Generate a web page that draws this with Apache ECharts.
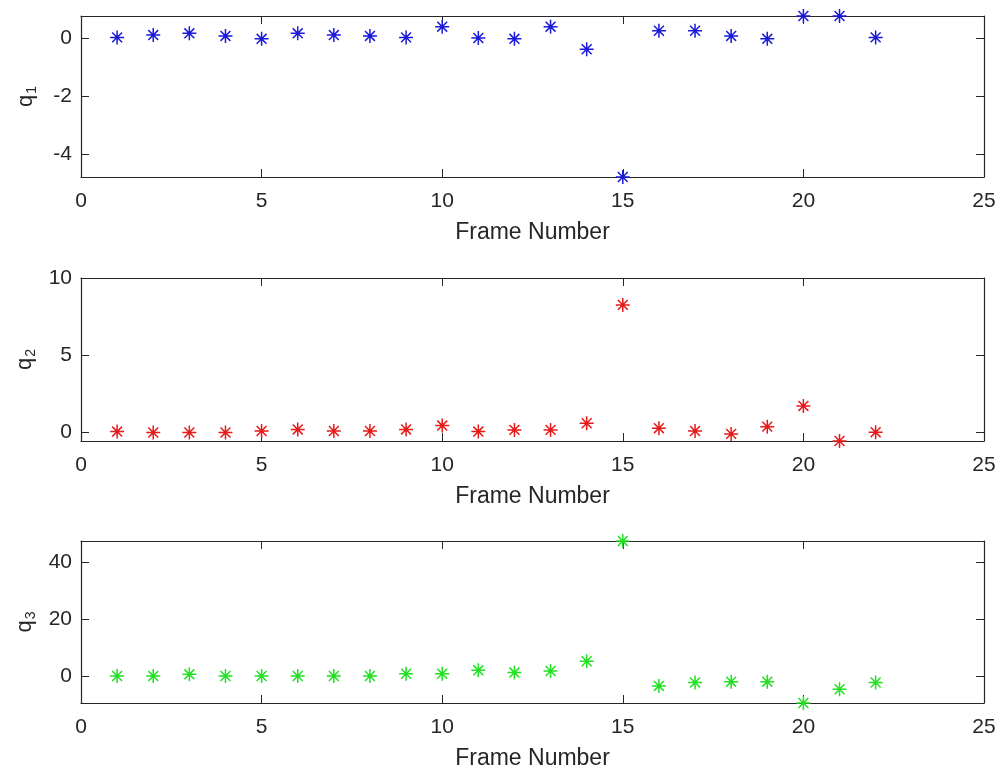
<!DOCTYPE html>
<html>
<head>
<meta charset="utf-8">
<script src="https://cdn.jsdelivr.net/npm/echarts@6/dist/echarts.min.js"></script>
<style>
html,body{margin:0;padding:0;background:#fff;}
#chart{width:1003px;height:773px;}
</style>
</head>
<body>
<div id="chart"></div>
<script>
const frames = [1,2,3,4,5,6,7,8,9,10,11,12,13,14,15,16,17,18,19,20,21,22];
const q1 = [0.03,0.11,0.17,0.08,-0.02,0.17,0.11,0.08,0.03,0.40,0.01,-0.02,0.40,-0.38,-4.80,0.26,0.26,0.08,-0.02,0.77,0.77,0.03];
const q2 = [0.06,0.00,0.00,0.00,0.10,0.20,0.10,0.10,0.20,0.45,0.06,0.17,0.17,0.60,8.26,0.28,0.10,-0.09,0.38,1.72,-0.55,0.02];
const q3 = [0.0,0.0,0.6,0.0,0.0,0.0,0.0,0.0,0.8,0.8,2.0,1.2,1.75,5.2,47.5,-3.5,-2.3,-2.0,-2.0,-9.5,-4.65,-2.3];
const xTicks = [0,5,10,15,20,25];
const y1Ticks = [-4,-2,0];
const y2Ticks = [0,5,10];
const y3Ticks = [0,20,40];
const y1Range = [-4.8, 0.77];
const y2Range = [-0.55, 10];
const y3Range = [-9.5, 47.5];
const seriesColors = ['#1a1ad8','#e61a1a','#22e022'];
const subs = ['1','2','3'];

const txt = '#262626';
const font = 'Liberation Sans, Arial, Helvetica, sans-serif';
const star = 'path://M10,0L10,20M0,10L20,10M2.93,2.93L17.07,17.07M2.93,17.07L17.07,2.93';

const grids = [
  {left:81, right:19, top:16, height:161},
  {left:81, right:19, top:278, height:163},
  {left:81, right:19, top:541, height:162}
];
const yData = [q1,q2,q3];
const yTicks = [y1Ticks,y2Ticks,y3Ticks];
const yRanges = [y1Range,y2Range,y3Range];

const xAxes = [], yAxes = [], series = [];
grids.forEach((g,i)=>{
  const axLine = {show:true, onZero:false, lineStyle:{color:txt, width:1.2}};
  xAxes.push({
    type:'value', gridIndex:i, min:0, max:25, interval:5, position:'bottom',
    name:'Frame Number', nameLocation:'middle', nameGap:44,
    nameTextStyle:{color:txt, fontSize:23, fontFamily:font},
    axisLine:axLine, axisTick:{inside:true, length:8, lineStyle:{color:txt}, customValues:xTicks},
    axisLabel:{color:txt, fontSize:21, fontFamily:font, margin:14, customValues:xTicks},
    splitLine:{show:false}
  });
  xAxes.push({
    type:'value', gridIndex:i, min:0, max:25, interval:5, position:'top',
    axisLine:axLine, axisTick:{inside:true, length:8, lineStyle:{color:txt}, customValues:xTicks},
    axisLabel:{show:false}, splitLine:{show:false}
  });
  yAxes.push({
    type:'value', gridIndex:i, min:yRanges[i][0], max:yRanges[i][1], position:'left',
    name:'{q|q}{s|'+subs[i]+'}', nameLocation:'middle', nameRotate:90, nameGap:42,
    nameTextStyle:{color:txt, fontFamily:font, rich:{
      q:{fontSize:22, color:txt, fontFamily:font},
      s:{fontSize:14, color:txt, fontFamily:font, padding:[12,0,0,1]}
    }},
    axisLine:axLine,
    axisTick:{inside:true, length:8, lineStyle:{color:txt}, customValues:yTicks[i]},
    axisLabel:{color:txt, fontSize:21, fontFamily:font, margin:9, customValues:yTicks[i]},
    splitLine:{show:false}
  });
  yAxes.push({
    type:'value', gridIndex:i, min:yRanges[i][0], max:yRanges[i][1], position:'right',
    axisLine:axLine,
    axisTick:{inside:true, length:8, lineStyle:{color:txt}, customValues:yTicks[i]},
    axisLabel:{show:false, customValues:yTicks[i]}, splitLine:{show:false}
  });
  series.push({
    type:'scatter', xAxisIndex:2*i, yAxisIndex:2*i,
    data: frames.map((f,k)=>[f, yData[i][k]]),
    symbol: star, symbolSize:14, clip:false,
    itemStyle:{color:seriesColors[i], borderColor:seriesColors[i], borderWidth:1.5, opacity:1},
    emphasis:{disabled:true}, silent:true
  });
});

const chart = echarts.init(document.getElementById('chart'), null, {renderer:'canvas'});
chart.setOption({
  backgroundColor:'#ffffff',
  animation:false,
  grid:grids,
  xAxis:xAxes,
  yAxis:yAxes,
  series:series
});
</script>
</body>
</html>
